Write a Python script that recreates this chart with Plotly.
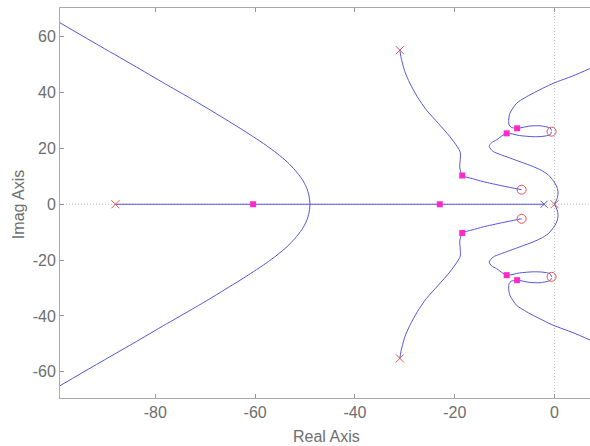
import plotly.graph_objects as go

# ---- data (upper half-plane; lower half is the conjugate) ----
# Branch from real-axis breakaway going to infinity (upper-left)
brA_re = [-49.0, -49.2, -49.7, -50.6, -52.0, -53.6, -55.6, -57.8, -60.3, -63.0, -66.0, -69.4, -73.4, -78.0, -84.5, -91.8, -99.1]
brA_im = [0.0, 3.0, 6.0, 9.0, 12.2, 15.2, 18.2, 21.1, 24.1, 27.2, 30.5, 34.2, 38.4, 43.1, 49.9, 57.4, 65.0]

# Branch from pole -31+55j to zero -6.6+5j
brB_re = [-31.0, -30.8, -30.0, -29.0, -27.5, -25.7, -23.3, -21.0, -19.5, -18.9, -18.9, -19.0, -18.5, -16.5, -14.3, -10.5, -6.6]
brB_im = [55.2, 52.9, 47.5, 43.4, 38.5, 33.8, 29.0, 24.3, 20.6, 18.6, 16.0, 13.3, 10.3, 9.2, 8.1, 6.6, 5.2]

# Branch from origin pole to zero -0.6+26j
brC_re = [0.0, 0.5, 0.7, 0.5, 0.06, -0.6, -1.3, -2.7, -4.3, -6.7, -9.0, -11.0, -12.3, -13.1, -12.6, -11.6, -9.6, -7.0, -4.3, -2.5, -0.9, -0.6]
brC_im = [0.0, 2.0, 4.1, 6.0, 7.6, 9.2, 10.6, 12.2, 13.5, 15.1, 16.6, 17.9, 18.9, 20.7, 22.1, 23.1, 25.4, 24.6, 24.2, 24.3, 24.9, 26.0]

# Branch from lightly damped pole near -0.6+26j going to infinity (upper-right)
brD_re = [-0.6, -0.9, -2.9, -5.0, -7.5, -8.7, -9.1, -9.2, -8.95, -7.6, -6.0, -4.3, -0.3, 3.7, 7.2]
brD_im = [26.4, 27.3, 28.1, 28.0, 27.2, 27.6, 28.4, 30.0, 32.6, 36.2, 38.1, 39.8, 43.3, 46.0, 48.7]

# Real-axis locus segment
real_seg = [-88.0, -2.1]

# Poles, zeros and gain markers
poles_red_re = [-88.0, -31.0, -31.0, 0.0]
poles_red_im = [0.0, 55.2, -55.2, 0.0]
poles_blue_re = [-2.1]
poles_blue_im = [0.0]
zeros_re = [-6.6, -6.6, -0.6, -0.6]
zeros_im = [5.2, -5.2, 26.0, -26.0]
gain_re = [-60.4, -23.0, -18.5, -18.5, -9.6, -9.6, -7.5, -7.5]
gain_im = [0.0, 0.0, 10.3, -10.3, 25.4, -25.4, 27.2, -27.2]

x_range = [-99.1, 7.1]
y_range = [-69.4, 70.3]
x_ticks = [-80, -60, -40, -20, 0]
x_tick_text = ["-80", "-60", "-40", "-20", "0"]
y_ticks = [-60, -40, -20, 0, 20, 40, 60]
y_tick_text = ["-60", "-40", "-20", "0", "20", "40", "60"]

LINE = "rgb(85,85,215)"
RED = "rgb(230,85,85)"
MAG = "rgb(255,40,200)"
GRAY = "rgb(110,110,110)"

fig = go.Figure()

# dotted axes through origin
fig.add_trace(go.Scatter(x=x_range, y=[0, 0], mode="lines",
                         line=dict(color="rgb(190,190,190)", width=1, dash="1px,2px"), hoverinfo="skip"))
fig.add_trace(go.Scatter(x=[0, 0], y=y_range, mode="lines",
                         line=dict(color="rgb(190,190,190)", width=1, dash="1px,2px"), hoverinfo="skip"))

# real axis segment
fig.add_trace(go.Scatter(x=real_seg, y=[0, 0], mode="lines", line=dict(color=LINE, width=1)))

for bre, bim in [(brA_re, brA_im), (brB_re, brB_im), (brC_re, brC_im), (brD_re, brD_im)]:
    fig.add_trace(go.Scatter(x=bre, y=bim, mode="lines",
                             line=dict(color=LINE, width=1, shape="spline", smoothing=0.7)))
    fig.add_trace(go.Scatter(x=bre, y=[-v for v in bim], mode="lines",
                             line=dict(color=LINE, width=1, shape="spline", smoothing=0.7)))

fig.add_trace(go.Scatter(x=gain_re, y=gain_im, mode="markers",
                         marker=dict(symbol="square", size=6, color=MAG)))
fig.add_trace(go.Scatter(x=zeros_re, y=zeros_im, mode="markers",
                         marker=dict(symbol="circle-open", size=9, color=RED, line=dict(width=1))))
fig.add_trace(go.Scatter(x=poles_red_re, y=poles_red_im, mode="markers",
                         marker=dict(symbol="x-thin-open", size=8, color=RED, line=dict(width=1, color=RED))))
fig.add_trace(go.Scatter(x=poles_blue_re, y=poles_blue_im, mode="markers",
                         marker=dict(symbol="x-thin-open", size=7, color=LINE, line=dict(width=1, color=LINE))))

axis_common = dict(showgrid=False, zeroline=False, showline=True, linecolor="rgb(170,170,170)",
                   linewidth=1, ticks="inside", ticklen=4, tickcolor="rgb(150,150,150)",
                   tickfont=dict(family="Liberation Sans, Arial, sans-serif", size=16, color=GRAY))

fig.update_xaxes(range=x_range, tickvals=x_ticks, ticktext=x_tick_text, mirror="ticks", **axis_common)
fig.update_yaxes(range=y_range, tickvals=y_ticks, ticktext=y_tick_text, mirror=False, **axis_common)

fig.update_layout(
    width=590, height=446,
    margin=dict(l=60, r=0, t=8, b=48),
    paper_bgcolor="white", plot_bgcolor="white",
    showlegend=False,
    annotations=[
        dict(text="Real Axis", xref="paper", yref="paper", x=0.503, y=-0.099,
             xanchor="center", yanchor="middle", showarrow=False,
             font=dict(family="Liberation Sans, Arial, sans-serif", size=16, color=GRAY)),
        dict(text="Imag Axis", xref="paper", yref="paper", x=-0.077, y=0.495,
             xanchor="center", yanchor="middle", showarrow=False, textangle=-90,
             font=dict(family="Liberation Sans, Arial, sans-serif", size=16, color=GRAY)),
    ],
)

fig.write_html("out.html", config={"displayModeBar": False},
               post_script="document.body.style.margin='0';document.body.style.overflow='hidden';")
